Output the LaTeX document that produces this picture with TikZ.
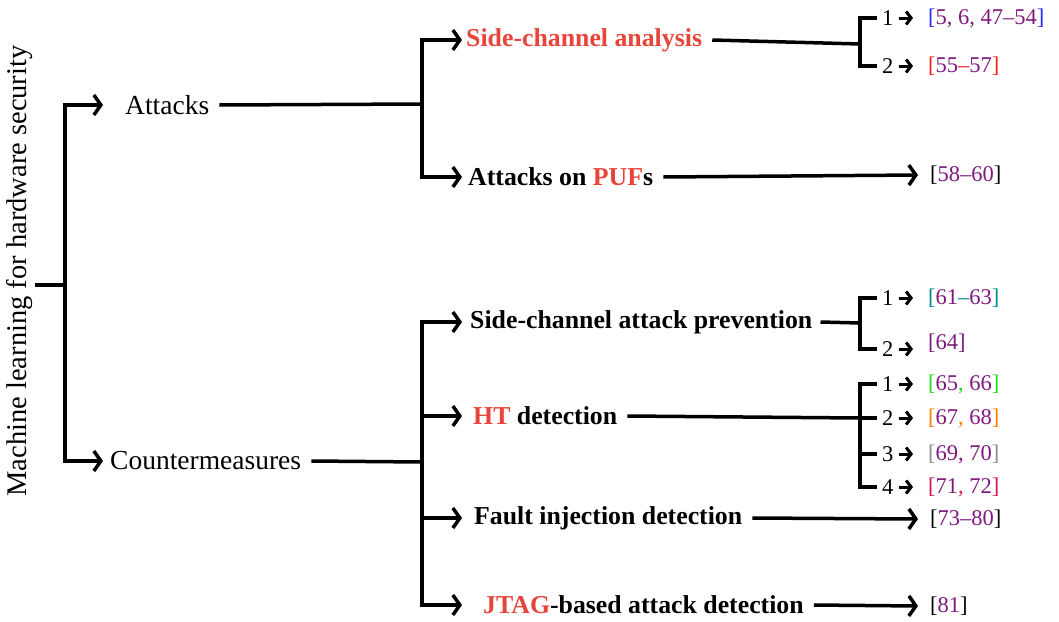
\documentclass[tikz,border=0pt]{standalone}
\usepackage{fontspec}
\setmainfont{Liberation Serif}
\usetikzlibrary{arrows.meta}
\definecolor{hred}{RGB}{232,68,58}
\definecolor{cpurple}{RGB}{128,24,128}
\definecolor{cblue}{RGB}{40,40,240}
\definecolor{cred}{RGB}{240,30,30}
\definecolor{cteal}{RGB}{0,140,140}
\definecolor{cgreen}{RGB}{30,220,30}
\definecolor{corange}{RGB}{255,128,0}
\definecolor{cgray}{RGB}{140,140,140}
\definecolor{ccrimson}{RGB}{210,20,80}
\newcommand{\pu}[1]{\textcolor{cpurple}{#1}}
\tikzset{
  lbl/.style={inner sep=0pt, anchor=west, font=\fontsize{27.5}{32}\selectfont},
  blbl/.style={inner sep=0pt, anchor=west, font=\fontsize{25.8}{30}\selectfont\bfseries},
  cit/.style={inner sep=0pt, anchor=west, font=\fontsize{22.5}{26}\selectfont},
  conn/.style={line width=3.5pt},
  arr/.style={conn, -{Straight Barb[length=7pt,width=20pt]}},
  sarr/.style={line width=3pt, -{Straight Barb[length=5pt,width=13pt]}}
}
\begin{document}
\begin{tikzpicture}[x=1pt,y=-1pt]
\useasboundingbox (0,0) rectangle (1059,621);
% title
\node[inner sep=0pt, rotate=90, font=\fontsize{28.5}{32}\selectfont] (title) at (20,271) {Machine learning for hardware security};
\coordinate (s0) at (35,285);
\coordinate (j0) at (65,285);
\draw[conn] (s0) -- (j0);
% level 1
\node[lbl] (att) at (125,105) {Attacks};
\node[lbl] (cm) at (110,461) {Countermeasures};
\draw[arr] (j0) |- ([xshift=-22pt]att.west);
\draw[arr] (j0) |- ([xshift=-7pt]cm.west);
% attacks branch
\coordinate (j1) at (422,104);
\draw[conn] ([xshift=10pt]att.east) -- (j1);
\node[blbl, text=hred] (sca) at (466,40) {Side-channel analysis};
\node[blbl] (puf) at (468,177) {Attacks on \textcolor{hred}{PUF}s};
\draw[arr] (j1) |- ([xshift=-4pt]sca.west);
\draw[arr] (j1) |- ([xshift=-6pt]puf.west);
% sca bracket
\coordinate (b1) at (860,44);
\draw[conn] ([xshift=10pt]sca.east) -- (b1);
\node[cit] (n11) at (882,18) {1};
\node[cit] (n12) at (882,66) {2};
\node[cit] (c11) at (928,18) {\textcolor{cblue}{[}\pu{5, 6, 47–54}\textcolor{cblue}{]}};
\node[cit] (c12) at (928,66) {\textcolor{cred}{[}\pu{55}\textcolor{cred}{–}\pu{57}\textcolor{cred}{]}};
\draw[conn] (b1) |- ([xshift=-5pt]n11.west);
\draw[conn] (b1) |- ([xshift=-5pt]n12.west);
\draw[sarr] ([xshift=5pt]n11.east) -- ([xshift=-15pt]c11.west);
\draw[sarr] ([xshift=5pt]n12.east) -- ([xshift=-15pt]c12.west);
% puf
\node[cit] (c2) at (930,175) {[\pu{58–60}]};
\draw[arr] ([xshift=10pt]puf.east) -- ([xshift=-12pt]c2.west);
% countermeasures branch
\coordinate (j2) at (422,462);
\draw[conn] ([xshift=10pt]cm.east) -- (j2);
\node[blbl] (scap) at (470,322) {Side-channel attack prevention};
\node[blbl] (ht) at (473,416) {\textcolor{hred}{HT} detection};
\node[blbl] (fid) at (474,518) {Fault injection detection};
\node[blbl] (jtag) at (483,605) {\textcolor{hred}{JTAG}-based attack detection};
\draw[arr] (j2) |- ([xshift=-8pt]scap.west);
\draw[arr] (j2) |- ([xshift=-11pt]ht.west);
\draw[arr] (j2) |- ([xshift=-12pt]fid.west);
\draw[arr] (j2) |- ([xshift=-21pt]jtag.west) ;
% scap bracket
\coordinate (b2) at (860,323);
\draw[conn] ([xshift=8pt]scap.east) -- (b2);
\node[cit] (n21) at (882,298) {1};
\node[cit] (n22) at (882,349) {2};
\node[cit] (c21) at (928,298) {\textcolor{cteal}{[}\pu{61}\textcolor{cteal}{–}\pu{63}\textcolor{cteal}{]}};
\node[cit] (c22) at (928,343) {\pu{[64]}};
\draw[conn] (b2) |- ([xshift=-5pt]n21.west);
\draw[conn] (b2) |- ([xshift=-5pt]n22.west);
\draw[sarr] ([xshift=5pt]n21.east) -- ([xshift=-15pt]c21.west);
\draw[sarr] ([xshift=5pt]n22.east) -- ([xshift=-15pt]c22.west |- n22.east);
% ht bracket
\coordinate (b3) at (860,418);
\draw[conn] ([xshift=10pt]ht.east) -- (b3);
\node[cit] (n31) at (882,384) {1};
\node[cit] (n32) at (882,418) {2};
\node[cit] (n33) at (882,454) {3};
\node[cit] (n34) at (882,487) {4};
\node[cit] (c31) at (928,384) {\textcolor{cgreen}{[}\pu{65}\textcolor{cgreen}{,} \pu{66}\textcolor{cgreen}{]}};
\node[cit] (c32) at (928,418) {\textcolor{corange}{[}\pu{67}\textcolor{corange}{,} \pu{68}\textcolor{corange}{]}};
\node[cit] (c33) at (928,454) {\textcolor{cgray}{[}\pu{69, 70}\textcolor{cgray}{]}};
\node[cit] (c34) at (928,487) {\textcolor{ccrimson}{[}\pu{71}\textcolor{ccrimson}{,} \pu{72}\textcolor{ccrimson}{]}};
\draw[conn] (b3) |- ([xshift=-5pt]n31.west);
\draw[conn] (b3) |- ([xshift=-5pt]n32.west);
\draw[conn] (b3) |- ([xshift=-5pt]n33.west);
\draw[conn] (b3) |- ([xshift=-5pt]n34.west);
\draw[sarr] ([xshift=5pt]n31.east) -- ([xshift=-15pt]c31.west);
\draw[sarr] ([xshift=5pt]n32.east) -- ([xshift=-15pt]c32.west);
\draw[sarr] ([xshift=5pt]n33.east) -- ([xshift=-15pt]c33.west);
\draw[sarr] ([xshift=5pt]n34.east) -- ([xshift=-15pt]c34.west);
% fault injection and jtag
\node[cit] (c4) at (930,519) {[\pu{73–80}]};
\node[cit] (c5) at (930,606) {[\pu{81}]};
\draw[arr] ([xshift=10pt]fid.east) -- ([xshift=-12pt]c4.west);
\draw[arr] ([xshift=10pt]jtag.east) -- ([xshift=-12pt]c5.west);
\end{tikzpicture}
\end{document}
